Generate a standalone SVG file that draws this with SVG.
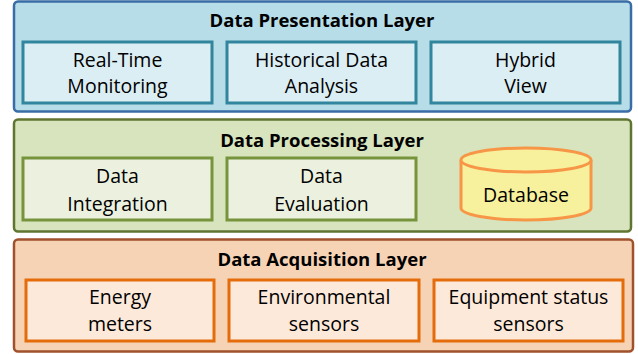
<svg xmlns="http://www.w3.org/2000/svg" width="638" height="354" viewBox="0 0 638 354">
<style>
text{font-family:"Open Sans","Liberation Sans",sans-serif;text-anchor:middle;fill:#000}
.t{font-weight:bold;font-size:18.5px}
.l{font-size:19.5px}
.po{fill:#b7dde8;stroke:#3a6ca6;stroke-width:2.5}
.pi{fill:#dbeef4;stroke:#31859c;stroke-width:3}
.go{fill:#d7e4bd;stroke:#5f7530;stroke-width:2.5}
.gi{fill:#ebf1de;stroke:#77933c;stroke-width:3}
.oo{fill:#f7d3b6;stroke:#a0522d;stroke-width:2.5}
.oi{fill:#fde9d9;stroke:#e46c0a;stroke-width:3}
.db{fill:#f7f09c;stroke:#f79646;stroke-width:3}
</style>
<g id="presentation-layer">
<rect class="po" x="14" y="1.5" width="617" height="110" rx="4"/>
<text class="t" x="322" y="27">Data Presentation Layer</text>
</g>
<g id="realtime"><rect class="pi" x="23" y="42" width="189" height="61"/><text class="l" x="117.5" y="67">Real-Time</text><text class="l" x="117.5" y="93">Monitoring</text></g>
<g id="historical"><rect class="pi" x="227" y="42" width="189" height="61"/><text class="l" x="321.5" y="67">Historical Data</text><text class="l" x="321.5" y="93">Analysis</text></g>
<g id="hybrid"><rect class="pi" x="431" y="42" width="189" height="61"/><text class="l" x="525.5" y="67">Hybrid</text><text class="l" x="525.5" y="93">View</text></g>

<g id="processing-layer">
<rect class="go" x="14" y="119.5" width="617" height="112" rx="4"/>
<text class="t" x="322" y="147">Data Processing Layer</text>
</g>
<g id="integration"><rect class="gi" x="23" y="158" width="189" height="62"/><text class="l" x="117.5" y="183">Data</text><text class="l" x="117.5" y="211">Integration</text></g>
<g id="evaluation"><rect class="gi" x="227" y="158" width="189" height="62"/><text class="l" x="321.5" y="183">Data</text><text class="l" x="321.5" y="211">Evaluation</text></g>
<g id="database">
<path class="db" d="M461,160 L461,208 A65,12 0 0 0 591,208 L591,160 A65,12 0 0 0 461,160 Z"/>
<path class="db" d="M461,160 A65,12 0 0 0 591,160" fill="none"/>
<text class="l" x="526" y="202">Database</text>
</g>

<g id="acquisition-layer">
<rect class="oo" x="14" y="239.5" width="619" height="112" rx="4"/>
<text class="t" x="322" y="266">Data Acquisition Layer</text>
</g>
<g id="energy"><rect class="oi" x="26" y="280" width="188" height="61"/><text class="l" x="120" y="304">Energy</text><text class="l" x="120" y="331">meters</text></g>
<g id="environmental"><rect class="oi" x="229" y="280" width="190" height="61"/><text class="l" x="324" y="304">Environmental</text><text class="l" x="324" y="331">sensors</text></g>
<g id="equipment"><rect class="oi" x="434" y="280" width="189" height="61"/><text class="l" x="528.5" y="304">Equipment status</text><text class="l" x="528.5" y="331">sensors</text></g>
<g id="connectors"/>
</svg>
